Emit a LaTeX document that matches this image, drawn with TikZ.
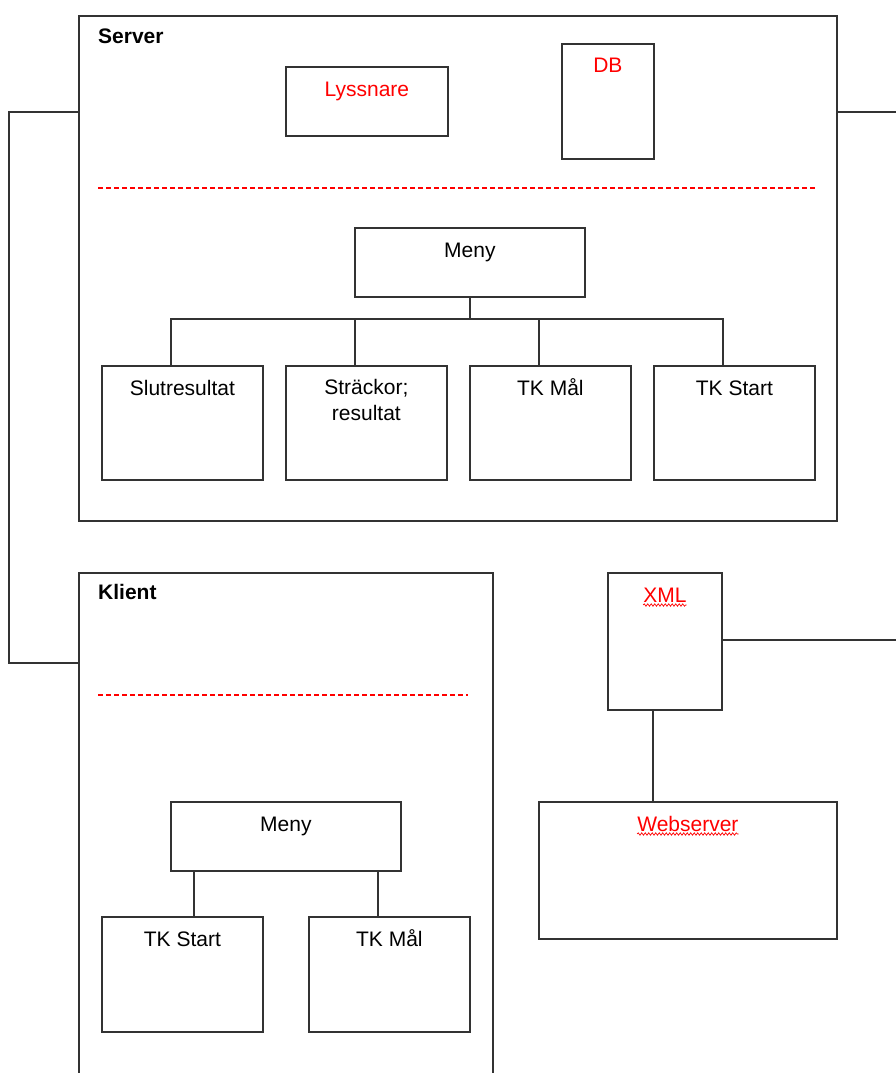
\documentclass[tikz,border=0pt]{standalone}
\usepackage{fontspec}
\setmainfont{Liberation Sans}
\usetikzlibrary{calc,decorations.pathmorphing}

\tikzset{
  blk/.style={draw=black!80, line width=1.8pt, rectangle, inner sep=0pt,
              anchor=north west, fill=none},
  txt/.style={anchor=base, yshift=-30pt, inner sep=0pt, align=center,
              font=\fontsize{21}{26}\selectfont},
  hdr/.style={anchor=base west, inner sep=0pt,
              font=\fontsize{21}{26}\selectfont\bfseries},
  wire/.style={draw=black!80, line width=1.8pt},
  sep/.style={draw=red, line width=1.3pt, dash pattern=on 5pt off 3pt},
  wavy/.style={draw=red, line width=0.7pt, decorate,
               decoration={snake, amplitude=1.2pt, segment length=3.5pt}}
}

\begin{document}
\begin{tikzpicture}[x=1pt, y=-1pt]
  \useasboundingbox (0,0) rectangle (896,1073);
  \clip (0,0) rectangle (896,1073);

  % ---------- Server ----------
  \node[blk, minimum width=758pt, minimum height=505pt] (server) at (78,15) {};
  \node[hdr] (servertxt) at (98,44) {Server};

  \node[blk, minimum width=162pt, minimum height=69pt,
        label={[txt, text=red]north:Lyssnare}] (lyss) at (285,66) {};
  \node[blk, minimum width=92pt, minimum height=115pt,
        label={[txt, text=red]north:DB}] (db) at (561,43) {};

  \draw[sep] (98,188) -- (815,188);

  \node[blk, minimum width=230pt, minimum height=69pt,
        label={[txt]north:Meny}] (smeny) at (354,227) {};

  \node[blk, minimum width=161pt, minimum height=114pt,
        label={[txt]north:Slutresultat}] (slut) at (101,365) {};
  \node[blk, minimum width=161pt, minimum height=114pt,
        label={[txt, yshift=-25pt]north:Sträckor;\\resultat}] (strack) at (285,365) {};
  \node[blk, minimum width=161pt, minimum height=114pt,
        label={[txt]north:TK Mål}] (smal) at (469,365) {};
  \node[blk, minimum width=161pt, minimum height=114pt,
        label={[txt]north:TK Start}] (sstart) at (653,365) {};

  % menu tree of the server
  \coordinate (sbus) at (469,319);
  \draw[wire] (smeny.south) -- (smeny.south |- sbus);
  \draw[wire] ([xshift=-11.5pt]slut.north) |- (sbus);
  \draw[wire] ([xshift=-11.5pt]strack.north) |- (sbus);
  \draw[wire] ([xshift=-11.5pt]smal.north) |- (sbus);
  \draw[wire] ([xshift=-11.5pt]sstart.north) |- (sbus);

  % ---------- Klient ----------
  \node[blk, minimum width=414pt, minimum height=530pt] (klient) at (78,572) {};
  \node[hdr] (klienttxt) at (98,599) {Klient};

  \draw[sep] (98,695) -- (468,695);

  \node[blk, minimum width=230pt, minimum height=69pt,
        label={[txt]north:Meny}] (kmeny) at (170,801) {};
  \node[blk, minimum width=161pt, minimum height=115pt,
        label={[txt]north:TK Start}] (kstart) at (101,916) {};
  \node[blk, minimum width=161pt, minimum height=115pt,
        label={[txt]north:TK Mål}] (kmal) at (308,916) {};

  \draw[wire] ([xshift=11.5pt]kstart.north) -- ([xshift=11.5pt]kstart.north |- kmeny.south);
  \draw[wire] ([xshift=-11.5pt]kmal.north) -- ([xshift=-11.5pt]kmal.north |- kmeny.south);

  % link between server and client
  \draw[wire] ([yshift=-97pt]server.north west) -| (9,663) -- (klient.west |- 0,663);

  % ---------- XML and Webserver ----------
  \node[blk, minimum width=114pt, minimum height=137pt,
        label={[txt, text=red, name=xmltxt]north:XML}] (xml) at (607,572) {};
  \node[blk, minimum width=298pt, minimum height=137pt,
        label={[txt, text=red, name=webtxt]north:Webserver}] (web) at (538,801) {};

  \draw[wavy] ([yshift=-3pt]xmltxt.base west) -- ([yshift=-3pt]xmltxt.base east);
  \draw[wavy] ([yshift=-3pt]webtxt.base west) -- ([yshift=-3pt]webtxt.base east);

  \draw[wire] (xml.south -| 653,0) -- (web.north -| 653,0);

  % lines leaving to the right
  \coordinate (rightA) at (896,112);
  \coordinate (rightB) at (896,640);
  \draw[wire] (server.east |- rightA) -- (rightA);
  \draw[wire] (xml.east |- rightB) -- (rightB);
\end{tikzpicture}
\end{document}
